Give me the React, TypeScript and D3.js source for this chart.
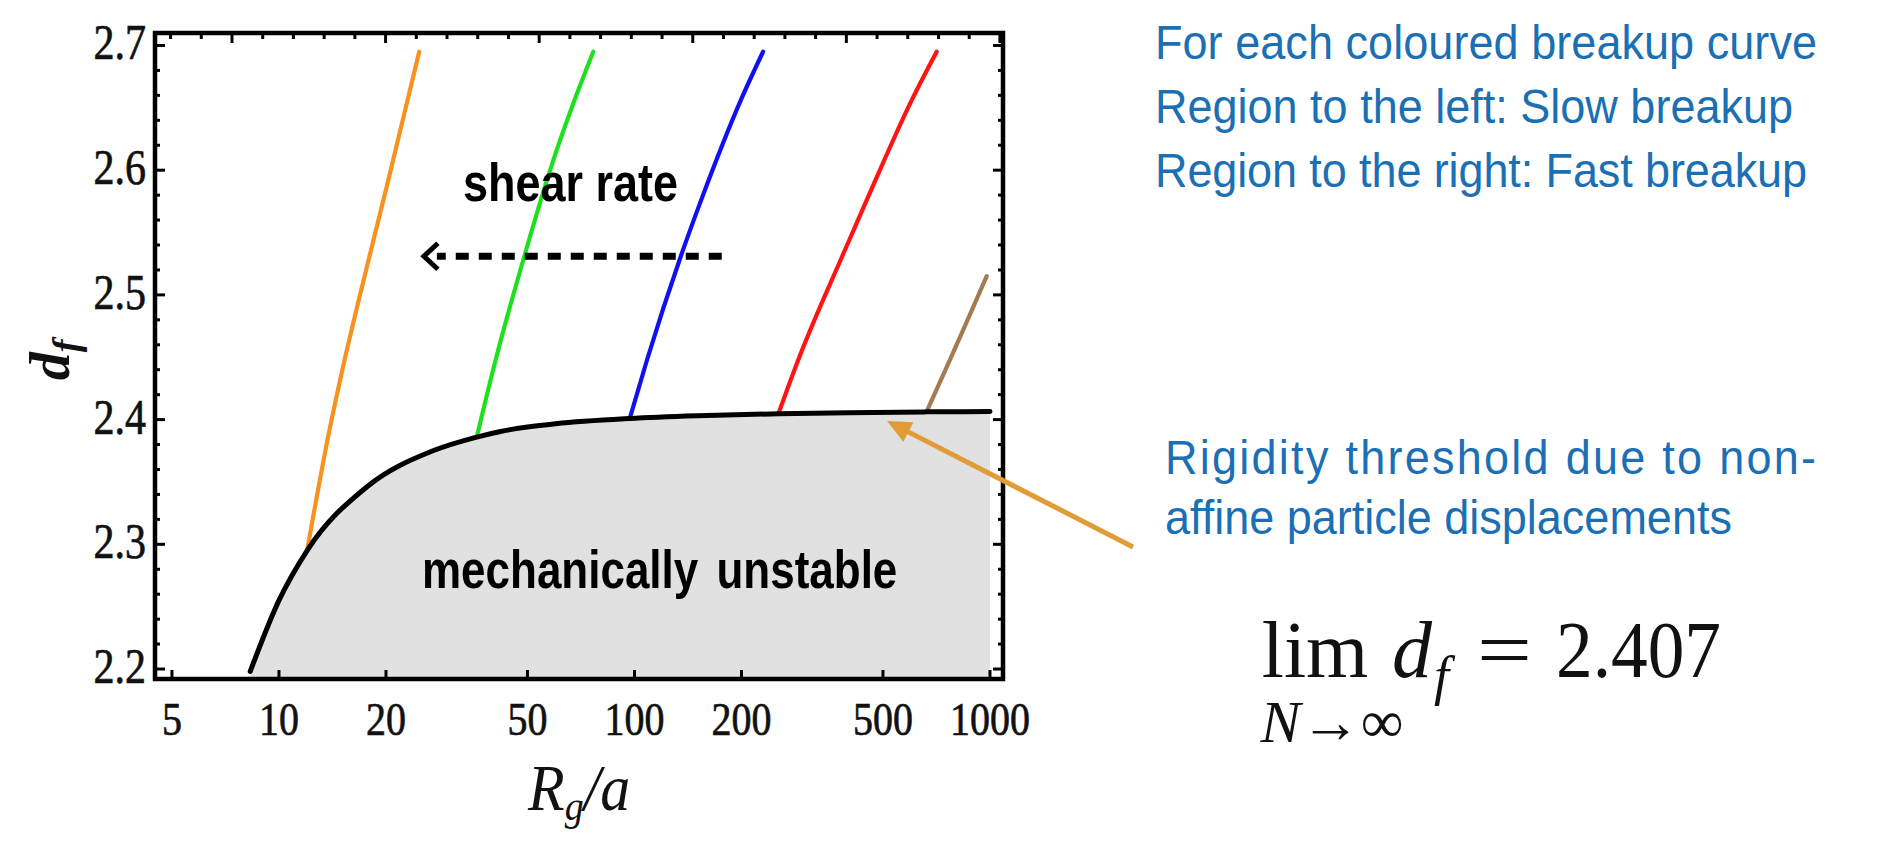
import React, { useEffect, useRef } from 'react';
import * as d3 from 'd3';

const xTickValues = [5, 10, 20, 50, 100, 200, 500, 1000];
const yTickValues = [2.2, 2.3, 2.4, 2.5, 2.6, 2.7];

// rigidity threshold (black curve)
const thresholdRg = [8.3, 10, 12, 17.65, 27.1, 36, 42, 50, 60, 97, 150, 254, 400, 663, 1000];
const thresholdDf = [2.198, 2.255, 2.295, 2.346, 2.375, 2.386, 2.3905, 2.394, 2.3967, 2.4009, 2.4031, 2.4047, 2.4055, 2.4062, 2.4065];

// breakup curves, one per shear rate
const orangeRg = [12, 13.7, 15.3, 16.9, 20.1, 24.8];
const orangeDf = [2.295, 2.384, 2.448, 2.5, 2.587, 2.695];
const greenRg = [36, 40.7, 49, 59.6, 67.8, 76.6];
const greenDf = [2.386, 2.448, 2.531, 2.611, 2.656, 2.695];
const blueRg = [97, 108.5, 135, 154, 199, 230];
const blueDf = [2.401, 2.448, 2.531, 2.576, 2.656, 2.695];
const redRg = [254, 289, 384, 450, 602, 708];
const redDf = [2.4047, 2.448, 2.531, 2.576, 2.656, 2.695];
const brownRg = [663, 750, 850, 979];
const brownDf = [2.4062, 2.44, 2.475, 2.515];

const breakupColors = ['#f7911f', '#1ee01e', '#1010f0', '#ff1414', '#a47a50'];

// shear rate arrow (from high to low Rg, at fixed df)
const shearArrowRg = [176, 25.4];
const shearArrowDf = 2.531;

const noteLines = ['For each coloured breakup curve', 'Region to the left: Slow breakup', 'Region to the right: Fast breakup'];
const rigidityLines = ['Rigidity threshold due to non-', 'affine particle displacements'];

export default function App() {
  const chartRef = useRef<SVGSVGElement>(null);

  useEffect(() => {
    const svg = d3.select(chartRef.current);
    svg.selectAll('*').remove();

    const box = { left: 155, right: 1003, top: 33, bottom: 679 };

    const x = d3.scaleLog().domain([4.48, 1088]).range([box.left, box.right]);
    const y = d3.scaleLinear().domain([2.192, 2.71]).range([box.bottom, box.top]);
    // top frame carries plain evenly spaced ticks
    const xTop = d3.scaleLinear().domain([-0.5013, 5.02]).range([box.left, box.right]);

    const serif = '"Liberation Serif", "Times New Roman", serif';
    const sans = '"Liberation Sans", Arial, sans-serif';

    const threshold = d3.zip(thresholdRg, thresholdDf);

    // mechanically unstable region
    const area = d3.area<number[]>()
      .x(d => x(d[0]))
      .y0(box.bottom - 2)
      .y1(d => y(d[1]))
      .curve(d3.curveMonotoneX);
    svg.append('path')
      .datum(threshold)
      .attr('d', area)
      .attr('fill', '#e1e1e1');

    const line = d3.line<number[]>()
      .x(d => x(d[0]))
      .y(d => y(d[1]))
      .curve(d3.curveMonotoneX);

    const breakups = [
      d3.zip(orangeRg, orangeDf),
      d3.zip(greenRg, greenDf),
      d3.zip(blueRg, blueDf),
      d3.zip(redRg, redDf),
      d3.zip(brownRg, brownDf),
    ];
    breakups.forEach((pts, i) => {
      svg.append('path')
        .datum(pts)
        .attr('d', line)
        .attr('fill', 'none')
        .attr('stroke', breakupColors[i])
        .attr('stroke-width', 4.2)
        .attr('stroke-linecap', 'round');
    });

    svg.append('path')
      .datum(threshold)
      .attr('d', line)
      .attr('fill', 'none')
      .attr('stroke', '#000')
      .attr('stroke-width', 5)
      .attr('stroke-linecap', 'round');

    // frame
    svg.append('rect')
      .attr('x', box.left)
      .attr('y', box.top)
      .attr('width', box.right - box.left)
      .attr('height', box.bottom - box.top)
      .attr('fill', 'none')
      .attr('stroke', '#000')
      .attr('stroke-width', 4.5);

    // bottom ticks
    xTickValues.forEach(v => {
      svg.append('line')
        .attr('x1', x(v)).attr('x2', x(v))
        .attr('y1', box.bottom).attr('y2', box.bottom - 9)
        .attr('stroke', '#000').attr('stroke-width', 3);
    });

    // top ticks
    d3.range(-2, 26).forEach(i => {
      const v = i / 5;
      const major = i % 5 === 0;
      svg.append('line')
        .attr('x1', xTop(v)).attr('x2', xTop(v))
        .attr('y1', box.top).attr('y2', box.top + (major ? 10 : 6))
        .attr('stroke', '#000').attr('stroke-width', 3);
    });

    // left / right ticks
    d3.range(110, 136).forEach(i => {
      const v = i / 50;
      const major = i % 5 === 0;
      const len = major ? 10 : 5;
      svg.append('line')
        .attr('x1', box.left).attr('x2', box.left + len)
        .attr('y1', y(v)).attr('y2', y(v))
        .attr('stroke', '#000').attr('stroke-width', 3);
      svg.append('line')
        .attr('x1', box.right).attr('x2', box.right - len)
        .attr('y1', y(v)).attr('y2', y(v))
        .attr('stroke', '#000').attr('stroke-width', 3);
    });

    // tick labels
    yTickValues.forEach(v => {
      svg.append('text')
        .attr('transform', `translate(146, ${y(v) + 14}) scale(1, 1.2)`)
        .attr('text-anchor', 'end')
        .attr('font-family', serif)
        .attr('font-size', 42)
        .attr('stroke', '#111')
        .attr('stroke-width', 0.6)
        .attr('fill', '#111')
        .text(d3.format('.1f')(v));
    });
    xTickValues.forEach(v => {
      svg.append('text')
        .attr('transform', `translate(${x(v)}, 735) scale(1, 1.18)`)
        .attr('text-anchor', 'middle')
        .attr('font-family', serif)
        .attr('font-size', 40)
        .attr('stroke', '#111')
        .attr('stroke-width', 0.6)
        .attr('fill', '#111')
        .text(v);
    });

    // axis titles
    const yTitle = svg.append('text')
      .attr('transform', 'translate(69, 360) rotate(-90)')
      .attr('text-anchor', 'middle')
      .attr('font-family', serif)
      .attr('font-style', 'italic')
      .attr('font-weight', 'bold')
      .attr('font-size', 56)
      .attr('fill', '#111');
    yTitle.append('tspan').text('d');
    yTitle.append('tspan').attr('font-size', 38).attr('dy', 10).text('f');

    const xTitle = svg.append('text')
      .attr('transform', 'translate(528, 810) scale(1, 1.1)')
      .attr('font-family', serif)
      .attr('font-style', 'italic')
      .attr('font-size', 60)
      .attr('fill', '#111');
    xTitle.append('tspan').text('R');
    xTitle.append('tspan').attr('font-size', 38).attr('dy', 9).text('g');
    xTitle.append('tspan').attr('dy', -9).text('/a');

    // in-plot annotations
    svg.append('text')
      .attr('transform', 'translate(463, 201) scale(1, 1.2)')
      .attr('font-family', sans)
      .attr('font-weight', 'bold')
      .attr('font-size', 45)
      .attr('fill', '#000')
      .text('shear rate');

    const ay = y(shearArrowDf);
    const tipX = x(shearArrowRg[1]);
    svg.append('line')
      .attr('x1', x(shearArrowRg[0])).attr('x2', tipX + 14)
      .attr('y1', ay).attr('y2', ay)
      .attr('stroke', '#000')
      .attr('stroke-width', 7)
      .attr('stroke-dasharray', '13 10');
    svg.append('polyline')
      .attr('points', [[tipX + 15, ay - 13], [tipX + 1, ay], [tipX + 15, ay + 13]].map(p => p.join(',')).join(' '))
      .attr('fill', 'none')
      .attr('stroke', '#000')
      .attr('stroke-width', 5);

    svg.append('text')
      .attr('transform', 'translate(422, 588) scale(1, 1.2)')
      .attr('font-family', sans)
      .attr('font-weight', 'bold')
      .attr('font-size', 44)
      .attr('word-spacing', 6)
      .attr('fill', '#000')
      .text('mechanically unstable');

    // callout arrow to the threshold
    const tail = [1133, 547];
    const tip = [887, 421];
    const dx = tip[0] - tail[0], dy = tip[1] - tail[1];
    const len = Math.hypot(dx, dy);
    const ux = dx / len, uy = dy / len;
    const headL = 24, headW = 11;
    const base = [tip[0] - ux * headL, tip[1] - uy * headL];
    svg.append('line')
      .attr('x1', tail[0]).attr('y1', tail[1])
      .attr('x2', base[0] + ux * 4).attr('y2', base[1] + uy * 4)
      .attr('stroke', '#e29c36')
      .attr('stroke-width', 5);
    svg.append('polygon')
      .attr('points', [tip, [base[0] - uy * headW, base[1] + ux * headW], [base[0] + uy * headW, base[1] - ux * headW]].map(p => p.join(',')).join(' '))
      .attr('fill', '#e29c36');

    // notes on the right
    const blue = '#1b6fb4';
    const noteWidths = [662, 638, 652];
    noteLines.forEach((t, i) => {
      svg.append('text')
        .attr('transform', `translate(1155, ${59 + i * 64}) scale(1, 1.08)`)
        .attr('font-family', sans)
        .attr('font-size', 45)
        .attr('fill', blue)
        .attr('textLength', noteWidths[i])
        .attr('lengthAdjust', 'spacing')
        .text(t);
    });
    rigidityLines.forEach((t, i) => {
      const el = svg.append('text')
        .attr('transform', `translate(1165, ${474 + i * 60}) scale(1, 1.08)`)
        .attr('font-family', sans)
        .attr('font-size', 45)
        .attr('fill', blue)
        .text(t);
      if (i === 0) el.attr('textLength', 651).attr('lengthAdjust', 'spacing');
    });

    // limit formula
    svg.append('text')
      .attr('x', 1315).attr('y', 677)
      .attr('text-anchor', 'middle')
      .attr('font-family', serif)
      .attr('font-size', 80)
      .attr('fill', '#111')
      .text('lim');
    const sub = svg.append('text')
      .attr('x', 1332).attr('y', 742)
      .attr('text-anchor', 'middle')
      .attr('font-family', serif)
      .attr('font-size', 60)
      .attr('fill', '#111');
    sub.append('tspan').attr('font-style', 'italic').text('N');
    sub.append('tspan').text('→∞');

    svg.append('text')
      .attr('x', 1392).attr('y', 677)
      .attr('font-family', serif)
      .attr('font-style', 'italic')
      .attr('font-size', 80)
      .attr('fill', '#111')
      .text('d');
    svg.append('text')
      .attr('x', 1434).attr('y', 694)
      .attr('font-family', serif)
      .attr('font-style', 'italic')
      .attr('font-size', 54)
      .attr('fill', '#111')
      .text('f');
    svg.append('text')
      .attr('x', 1477).attr('y', 677)
      .attr('font-family', serif)
      .attr('font-size', 80)
      .attr('fill', '#111')
      .attr('textLength', 55)
      .attr('lengthAdjust', 'spacingAndGlyphs')
      .text('=');
    svg.append('text')
      .attr('x', 1556).attr('y', 677)
      .attr('font-family', serif)
      .attr('font-size', 80)
      .attr('fill', '#111')
      .attr('textLength', 165)
      .attr('lengthAdjust', 'spacingAndGlyphs')
      .text('2.407');
  }, []);

  return (
    <svg
      ref={chartRef}
      width={1877}
      height={843}
      style={{ position: 'absolute', left: 0, top: 0, background: '#fff' }}
    />
  );
}
